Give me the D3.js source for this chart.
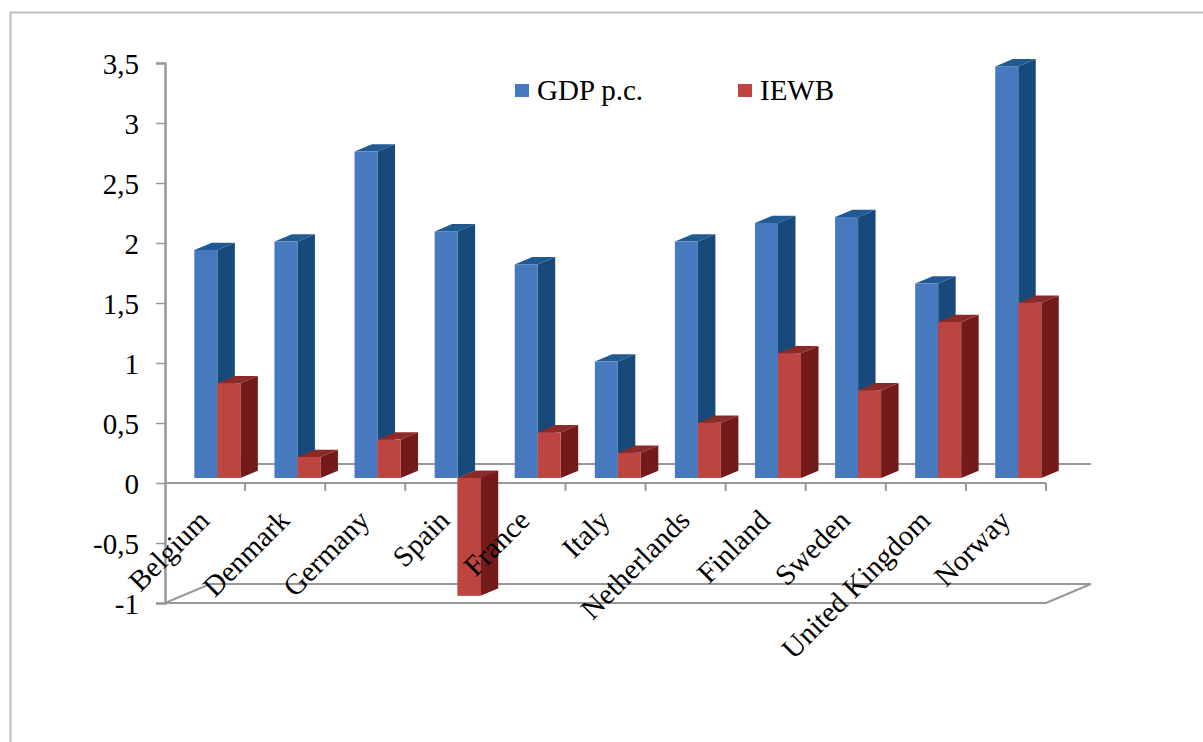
<!DOCTYPE html>
<html>
<head>
<meta charset="utf-8">
<script src="https://cdn.jsdelivr.net/npm/d3@7"></script>
<style>
  html, body { margin: 0; padding: 0; background: #fff; overflow: hidden; }
  svg { display: block; }
  text { font-family: "Liberation Serif", serif; fill: #000; }
</style>
</head>
<body>
<svg id="chart" width="1203" height="742"></svg>
<script>
// Change per country, drawn as a pseudo-3D clustered column chart
const countries = ["Belgium", "Denmark", "Germany", "Spain", "France", "Italy", "Netherlands", "Finland", "Sweden", "United Kingdom", "Norway"];
const gdpValues = [1.90, 1.97, 2.72, 2.055, 1.78, 0.97, 1.97, 2.125, 2.175, 1.62, 3.43];
const iewbValues = [0.79, 0.175, 0.32, -0.98, 0.38, 0.21, 0.46, 1.04, 0.73, 1.30, 1.46];
const yTicks = [-1, -0.5, 0, 0.5, 1, 1.5, 2, 2.5, 3, 3.5];
const seriesNames = ["GDP p.c.", "IEWB"];

const svg = d3.select("#chart");
const AXIS = "#989898";
const LABEL_SIZE = 29;

// Chart frame: only the top and left edges fall inside the page
svg.append("path").attr("d", "M10.5,742V12.5H1203").attr("fill", "none").attr("stroke", "#bdbdbd").attr("stroke-width", 2);

const x = d3.scaleBand().domain(countries).range([165, 1046]);
const y = d3.scaleLinear().domain([-1, 3.5]).range([603, 63]);

// Oblique projection: the floor recedes up and to the right
const wallDx = 45, wallDy = -19;
const barDx = 17.5, barDy = -7.3;
// Columns stand part-way into the floor depth
const insetX = 12.3, insetY = -5;
const barW = 23;

const walls = svg.append("g").attr("fill", "none").attr("stroke", AXIS).attr("stroke-width", 2);
const x0 = x.range()[0], x1 = x.range()[1];
// Back edge at zero and the base plane at the axis minimum
walls.append("path").attr("d", `M${x0 + wallDx},${y(0) + wallDy}H${x1 + wallDx}`);
walls.append("path").attr("d", `M${x0},${y(-1)}L${x0 + wallDx},${y(-1) + wallDy}H${x1 + wallDx}L${x1},${y(-1)}H${x0}`);

function drawColumn(g, cx, value, colors) {
  const yBase = y(0) + insetY, yVal = y(value) + insetY;
  const top = Math.min(yBase, yVal), bottom = Math.max(yBase, yVal);
  const left = cx, right = cx + barW;
  g.append("path").attr("fill", colors.side)
    .attr("d", `M${right},${top}L${right + barDx},${top + barDy}V${bottom + barDy}L${right},${bottom}Z`);
  g.append("path").attr("fill", colors.top)
    .attr("d", `M${left},${top}L${left + barDx},${top + barDy}H${right + barDx}L${right},${top}Z`);
  g.append("rect").attr("fill", colors.front)
    .attr("x", left).attr("y", top).attr("width", barW).attr("height", bottom - top);
}

const blue = { front: "#4679bd", side: "#174a7a", top: "#1f5a92" };
const red = { front: "#be4441", side: "#741a1a", top: "#8c2a28" };

// Blue columns sit behind their red neighbours
const bars = svg.append("g");
countries.forEach((c, i) => {
  const cx = x(c) + x.bandwidth() / 2 + insetX - barW;
  drawColumn(bars, cx, gdpValues[i], blue);
});
countries.forEach((c, i) => {
  const cx = x(c) + x.bandwidth() / 2 + insetX;
  drawColumn(bars, cx, iewbValues[i], red);
});

// Category axis along the zero plane, ticks hanging down at band edges
const catAxis = svg.append("g").attr("fill", "none").attr("stroke", AXIS).attr("stroke-width", 2);
catAxis.append("path").attr("d", `M${x0},${y(0)}H${x1}`);
countries.forEach(c => {
  catAxis.append("path").attr("d", `M${x(c) + x.step()},${y(0)}v8`);
});

// Keep the Spain column in front of the zero line
const spainGroup = svg.append("g");
drawColumn(spainGroup, x("Spain") + x.bandwidth() / 2 + insetX, iewbValues[3], red);

// Value axis
const yAxis = d3.axisLeft(y)
  .tickValues(yTicks)
  .tickSize(9)
  .tickPadding(17)
  .tickFormat(d => String(d).replace(".", ","));
const yG = svg.append("g").attr("transform", `translate(${x0},0)`).call(yAxis);
yG.selectAll("path.domain").attr("stroke", AXIS).attr("stroke-width", 2.5);
yG.selectAll(".tick line").attr("stroke", AXIS).attr("stroke-width", 1.5);
yG.selectAll("text").attr("font-family", "Liberation Serif").attr("font-size", LABEL_SIZE).attr("fill", "#000").attr("y", 1);

// Category labels rotated along the floor
svg.append("g").selectAll("text").data(countries).join("text")
  .attr("text-anchor", "end")
  .attr("font-size", LABEL_SIZE)
  .attr("transform", c => `translate(${x(c) + x.bandwidth() / 2 + 6},${y(0) + 39}) rotate(-45)`)
  .text(c => c);

// Legend
const legendX = [515, 738];
const legend = svg.append("g");
seriesNames.forEach((name, i) => {
  legend.append("rect").attr("x", legendX[i]).attr("y", 84).attr("width", 14).attr("height", 13)
    .attr("fill", [blue.front, red.front][i]);
  legend.append("text").attr("x", legendX[i] + 22).attr("y", 100).attr("font-size", LABEL_SIZE).text(name);
});
</script>
</body>
</html>
